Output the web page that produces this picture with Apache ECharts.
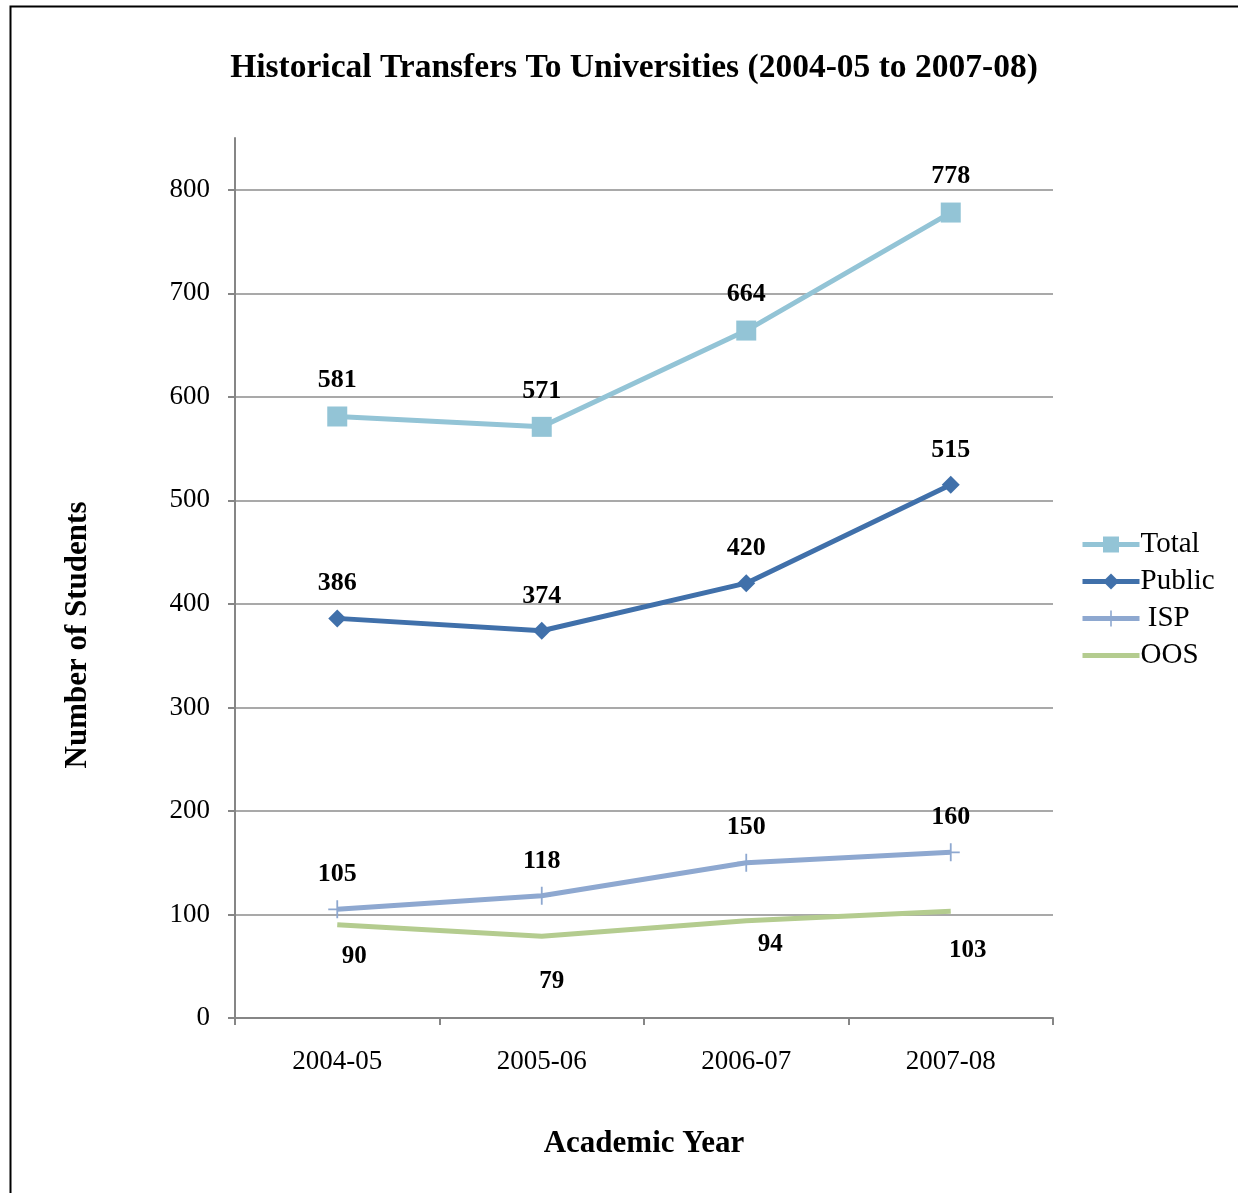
<!DOCTYPE html>
<html>
<head>
<meta charset="utf-8">
<script src="https://cdn.jsdelivr.net/npm/echarts@6/dist/echarts.min.js"></script>
<style>
html,body{margin:0;padding:0;background:#fff;}
#chart{width:1238px;height:1193px;}
</style>
</head>
<body>
<div id="chart"></div>
<script>
var categories = ['2004-05', '2005-06', '2006-07', '2007-08'];
var totalValues = [581, 571, 664, 778];
var publicValues = [386, 374, 420, 515];
var ispValues = [105, 118, 150, 160];
var oosValues = [90, 79, 94, 103];
var yTicks = {min: 0, max: 850, interval: 100};

var FONT = "'Liberation Serif', 'Times New Roman', serif";
var oosLabelOffsets = [[17, 32], [10, 45], [24, 24], [17, 39]];

var chart = echarts.init(document.getElementById('chart'), null, {renderer: 'canvas'});

var labelBase = {show: true, position: 'top', distance: 13, color: '#000', fontFamily: FONT, fontWeight: 'bold', fontSize: 26};

var option = {
  backgroundColor: '#fff',
  animation: false,
  title: {
    text: 'Historical Transfers To Universities (2004-05 to 2007-08)',
    left: 629, top: 46, textAlign: 'center',
    textStyle: {fontFamily: FONT, fontWeight: 'bold', fontSize: 33.5, color: '#000'}
  },
  graphic: [{
    type: 'rect', left: 8, top: 4, z: 100, silent: true,
    shape: {width: 1260, height: 1220},
    style: {fill: 'none', stroke: '#000', lineWidth: 2}
  }, {
    type: 'text', x: 78, y: 635, rotation: Math.PI / 2, silent: true,
    style: {
      text: 'Number of Students', fontFamily: FONT, fontWeight: 'bold', fontSize: 31,
      fill: '#000', align: 'center', verticalAlign: 'middle'
    }
  }],
  legend: {
    orient: 'vertical', left: 1075, top: 525,
    itemWidth: 57, itemHeight: 20, itemGap: 8,
    lineStyle: {width: 5},
    textStyle: {fontFamily: FONT, fontSize: 29, color: '#000', padding: [0, 0, 0, -4]},
    data: [
      {name: 'Total'},
      {name: 'Public'},
      {name: ' ISP'},
      {name: 'OOS', itemStyle: {opacity: 0}}
    ]
  },
  grid: {left: 235, right: 185, top: 138, bottom: 175, containLabel: false},
  xAxis: {
    type: 'category', data: categories, boundaryGap: true,
    name: 'Academic Year', nameLocation: 'middle', nameGap: 110,
    nameTextStyle: {fontFamily: FONT, fontWeight: 'bold', fontSize: 31, color: '#000'},
    axisLine: {lineStyle: {color: '#868686', width: 2}},
    axisTick: {show: true, alignWithLabel: false, length: 7, lineStyle: {color: '#868686', width: 2}},
    axisLabel: {fontFamily: FONT, fontSize: 27, color: '#000', margin: 30}
  },
  yAxis: {
    type: 'value', min: yTicks.min, max: yTicks.max, interval: yTicks.interval,
    axisLine: {show: true, lineStyle: {color: '#868686', width: 2}},
    axisTick: {show: true, inside: false, length: 7, lineStyle: {color: '#868686', width: 2}},
    axisLabel: {fontFamily: FONT, fontSize: 27, color: '#000', margin: 25, showMaxLabel: false},
    splitLine: {show: true, showMaxLine: false, lineStyle: {color: '#8c8c8c', width: 1.5}}
  },
  series: [
    {
      name: 'Total', type: 'line', data: totalValues,
      symbol: 'rect', symbolSize: 20,
      lineStyle: {color: '#93C4D6', width: 5},
      itemStyle: {color: '#93C4D6'},
      label: labelBase, z: 4
    },
    {
      name: 'Public', type: 'line', data: publicValues,
      symbol: 'diamond', symbolSize: [18, 18],
      lineStyle: {color: '#4070AA', width: 5},
      itemStyle: {color: '#4070AA'},
      label: labelBase, z: 4
    },
    {
      name: ' ISP', type: 'line', data: ispValues,
      symbol: 'path://M-1,-10H1V10H-1Z M-10,-1H10V1H-10Z', symbolSize: 18,
      lineStyle: {color: '#8EA8D0', width: 5},
      itemStyle: {color: '#8EA8D0'},
      label: labelBase, z: 3
    },
    {
      name: 'OOS', type: 'line',
      data: oosValues.map(function (v, i) {
        return {value: v, label: {offset: oosLabelOffsets[i]}};
      }),
      symbol: 'circle', symbolSize: 0.01,
      lineStyle: {color: '#B4CC8F', width: 5},
      itemStyle: {color: '#B4CC8F'},
      label: {show: true, position: 'inside', color: '#000', fontFamily: FONT, fontWeight: 'bold', fontSize: 25},
      z: 3
    }
  ]
};
chart.setOption(option);
</script>
</body>
</html>
